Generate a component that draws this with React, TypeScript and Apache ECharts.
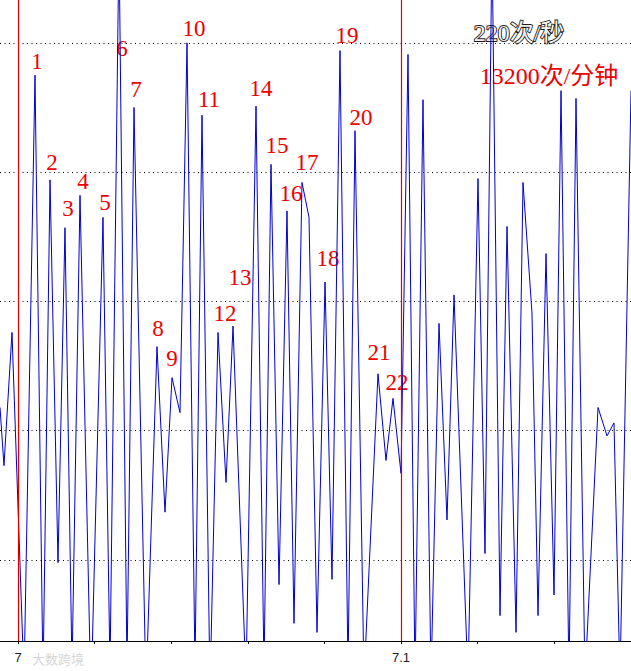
import React, { useEffect, useRef } from "react";
import * as echarts from "echarts";

// ---- data (time in s, amplitude in arbitrary units) ----
const times = [
  6.9953, 6.99634, 6.99843, 7.00157, 7.00444, 7.00653, 7.00836, 7.01044, 7.01227, 7.0141,
  7.01619, 7.01906, 7.02219, 7.02402, 7.02637, 7.02846, 7.03029, 7.03342, 7.03629, 7.03838,
  7.04021, 7.0423, 7.04413, 7.04621, 7.04804, 7.05013, 7.05222, 7.05431, 7.05614, 7.05953,
  7.06214, 7.06423, 7.06606, 7.06815, 7.07023, 7.07206, 7.07415, 7.07598, 7.07807, 7.08016,
  7.08198, 7.08407, 7.08616, 7.08799, 7.09034, 7.09399, 7.09608, 7.09791, 7.1, 7.10183,
  7.10366, 7.10574, 7.10783, 7.10992, 7.11201, 7.11384, 7.11749, 7.1201, 7.12193, 7.12376,
  7.12585, 7.12768, 7.13003, 7.13185, 7.1342, 7.13577, 7.13786, 7.13995, 7.14178, 7.14386,
  7.14569, 7.14804, 7.15144, 7.15379, 7.15561, 7.15718, 7.16005,
];
const amplitudes = [
  2.18, 1.73, 2.76, 0.07, 4.75, 0.07, 3.94, 0.98, 3.57, 0.15,
  3.82, -0.08, 3.65, 0.15, 5.8, 0.15, 4.5, -0.01, 2.65, 1.37,
  2.41, 2.14, 5.0, 0.15, 4.44, -0.01, 2.76, 1.6, 2.81, 0.07,
  4.51, 0.15, 4.06, 0.81, 3.7, 0.51, 3.92, 3.65, 0.44, 3.15,
  0.85, 4.94, 0.15, 4.32, 0.07, 2.44, 1.77, 2.25, 1.67, 4.91,
  0.07, 4.56, 0.07, 2.83, 1.31, 3.05, 0.07, 3.95, 1.05, 5.8,
  0.57, 3.58, 0.44, 3.92, 2.91, 0.57, 3.37, 0.73, 4.63, 0.07,
  4.57, 0.07, 2.18, 1.96, 2.06, 0.07, 4.63,
];
const gridLevels = [1, 2, 3, 4, 5];
const markerTimes = [7, 7.1];
const tickValues = [7, 7.02, 7.04, 7.06, 7.08, 7.1, 7.12, 7.14, 7.16];
const tickLabelValues = [7, 7.1];
const peakNames = [
  "1", "2", "3", "4", "5", "6", "7", "8", "9", "10", "11",
  "12", "13", "14", "15", "16", "17", "18", "19", "20", "21", "22",
];
const rateTexts = ["220次/秒", "13200次/分钟"];
const watermarkText = "大数跨境";

// ---- layout (pixels) ----
const X_MIN = 6.9953;
const X_MAX = 7.16005;
const Y_MIN = 0.3736;
const Y_MAX = 5.331;
const MARKER_OFFSET = 0.0004;
const peakLabelPos: number[][] = [
  [37, 61], [52, 162], [68, 208], [83, 181], [105, 202], [122, 48], [136, 89],
  [158, 328], [172, 358], [194, 28], [209, 99], [225, 313], [240, 277], [261, 88],
  [277, 145], [291, 193], [307, 162], [328, 258], [347, 35], [361, 117], [379, 352],
  [397, 382],
];

const centered = {
  textAlign: "center",
  textVerticalAlign: "middle",
  align: "center",
  verticalAlign: "middle",
};

export default function App() {
  const ref = useRef<HTMLDivElement>(null);
  useEffect(() => {
    if (!ref.current) return;
    const chart = echarts.init(ref.current, undefined, { renderer: "svg" });
    const seriesData = times.map((t, i) => [t, amplitudes[i]]);
    const graphics: any[] = peakNames.map((name, i) => ({
      type: "text",
      x: peakLabelPos[i][0],
      y: peakLabelPos[i][1],
      silent: true,
      style: {
        text: name,
        fill: "#ee0000",
        font: '23px "Liberation Serif", serif',
        ...centered,
      },
    }));
    graphics.push({
      type: "text",
      x: 519,
      y: 33,
      silent: true,
      style: {
        text: rateTexts[0],
        fill: "#f2f2f2",
        stroke: "#1a1a1a",
        lineWidth: 1.8,
        font: '24px "Liberation Serif", "Noto Sans CJK SC", serif',
        ...centered,
      },
    });
    graphics.push({
      type: "text",
      x: 549,
      y: 76,
      silent: true,
      style: {
        text: rateTexts[1],
        fill: "#ee0000",
        font: '24px "Liberation Serif", "Noto Sans CJK SC", serif',
        ...centered,
      },
    });
    graphics.push({
      type: "text",
      x: 58,
      y: 658,
      silent: true,
      style: {
        text: watermarkText,
        fill: "#d6d6d6",
        font: '13px "Noto Sans CJK SC", sans-serif',
        ...centered,
      },
    });

    const dotted = { color: "#000", width: 1, type: [1, 3.5] as number[] };
    const hidden = { opacity: 0, width: 0 };
    const dottedLines = [
      ...gridLevels.map((v) => ({ yAxis: v })),
      ...markerTimes.map((t) => ({ xAxis: t + MARKER_OFFSET })),
    ];

    chart.setOption({
      animation: false,
      backgroundColor: "#ffffff",
      grid: { left: 0, right: 0, top: 0, bottom: 30, containLabel: false },
      xAxis: {
        type: "value",
        min: X_MIN,
        max: X_MAX,
        splitLine: { show: false },
        axisLine: { show: true, onZero: false, lineStyle: { color: "#000", width: 1 } },
        axisTick: {
          show: true,
          length: 3,
          inside: false,
          customValues: tickValues,
          lineStyle: { color: "#000" },
        },
        axisLabel: {
          show: true,
          customValues: tickLabelValues,
          margin: 10,
          color: "#222",
          fontSize: 13,
          fontFamily: '"Liberation Sans", Arial, sans-serif',
          formatter: (v: number) => String(Math.round(v * 100) / 100),
          showMinLabel: true,
          showMaxLabel: true,
        },
      },
      yAxis: {
        type: "value",
        min: Y_MIN,
        max: Y_MAX,
        show: false,
        splitLine: { show: false },
      },
      graphic: graphics,
      series: [
        {
          name: "grid",
          type: "line",
          data: seriesData,
          showSymbol: false,
          symbol: "none",
          silent: true,
          lineStyle: hidden,
          z: 1,
          markLine: {
            silent: true,
            symbol: ["none", "none"],
            label: { show: false },
            animation: false,
            lineStyle: dotted,
            data: dottedLines,
          },
        },
        {
          name: "markers",
          type: "line",
          data: seriesData,
          showSymbol: false,
          symbol: "none",
          silent: true,
          lineStyle: hidden,
          z: 2,
          markLine: {
            silent: true,
            symbol: ["none", "none"],
            label: { show: false },
            animation: false,
            lineStyle: { color: "#e00000", width: 1.2, type: "solid" },
            data: markerTimes.map((t) => ({ xAxis: t })),
          },
        },
        {
          name: "wave",
          type: "line",
          data: seriesData,
          showSymbol: false,
          symbol: "none",
          clip: true,
          z: 3,
          lineStyle: { color: "#0000cc", width: 1 },
        },
      ],
    });
    return () => chart.dispose();
  }, []);
  return (
    <div
      ref={ref}
      style={{ position: "absolute", left: 0, top: 0, width: 631, height: 671, background: "#fff" }}
    />
  );
}
